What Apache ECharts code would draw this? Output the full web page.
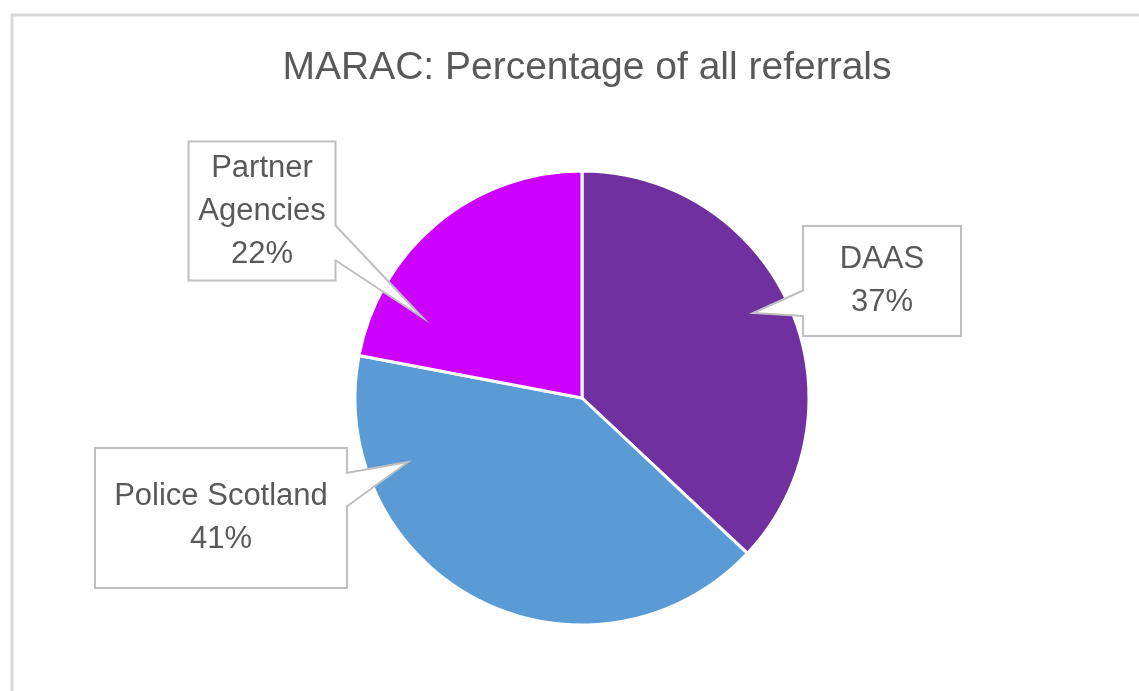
<!DOCTYPE html>
<html>
<head>
<meta charset="utf-8">
<script src="https://cdn.jsdelivr.net/npm/echarts@6/dist/echarts.min.js"></script>
<style>
  html, body { margin: 0; padding: 0; background: #fff; }
  #main { width: 1139px; height: 691px; }
</style>
</head>
<body>
<div id="main"></div>
<script>
// referral sources, clockwise from 12 o'clock
var categories = ['DAAS', 'Police Scotland', 'Partner Agencies'];
var labelNames = ['DAAS', 'Police Scotland', 'Partner\nAgencies'];
var values = [37, 41, 22];
var colors = ['#7030A0', '#5B9BD5', '#CC00FF'];

// callout boxes: centre, inner size, padding, wedge (base a, tip, base b, side into the box)
var callouts = [
    { x: 882, y: 281, w: 136, pad: [11, 10], line: [[804, 290], [753, 313], [804, 316]], inward: 3 },
    { x: 221, y: 518, w: 230, pad: [26, 10], line: [[346, 473], [408, 462], [346, 507]], inward: -3 },
    { x: 262, y: 211, w: 129, pad: [4, 8],  line: [[335, 225], [423, 318], [335, 260]], inward: -3 }
];

var myChart = echarts.init(document.getElementById('main'));

var data = categories.map(function (c, i) {
    return {
        name: c,
        value: values[i],
        itemStyle: { color: colors[i] },
        label: { width: callouts[i].w, padding: callouts[i].pad }
    };
});

// callout pointers drawn over the pie (white fill, grey edge)
var wedges = [];
callouts.forEach(function (c) {
    var a = c.line[0], t = c.line[1], b = c.line[2];
    wedges.push({
        type: 'polygon',
        z: 100,
        silent: true,
        shape: { points: [[a[0] + c.inward, a[1] + 1], a, t, b, [b[0] + c.inward, b[1] - 1]] },
        style: { fill: '#fff', stroke: null }
    });
    wedges.push({
        type: 'polyline',
        z: 101,
        silent: true,
        shape: { points: c.line },
        style: { stroke: '#bfbfbf', lineWidth: 2, fill: null }
    });
});

myChart.setOption({
    backgroundColor: '#fff',
    animation: false,
    graphic: [{
        type: 'rect',
        shape: { x: 12, y: 15, width: 1200, height: 800 },
        style: { fill: 'none', stroke: '#d9d9d9', lineWidth: 3 },
        silent: true
    }].concat(wedges),
    title: {
        text: 'MARAC: Percentage of all referrals',
        left: 582,
        top: 44,
        textAlign: 'center',
        textStyle: {
            color: '#595959',
            fontFamily: 'Liberation Sans',
            fontWeight: 'normal',
            fontSize: 39
        }
    },
    series: [{
        type: 'pie',
        center: [582, 398],
        radius: 227,
        startAngle: 90,
        clockwise: true,
        data: data,
        itemStyle: { borderColor: '#fff', borderWidth: 3 },
        label: {
            show: true,
            position: 'outside',
            formatter: function (p) {
                return labelNames[p.dataIndex] + '\n' + Math.round(p.percent) + '%';
            },
            color: '#595959',
            fontFamily: 'Liberation Sans',
            fontSize: 31,
            lineHeight: 43,
            align: 'center',
            backgroundColor: '#fff',
            borderColor: '#bfbfbf',
            borderWidth: 2
        },
        labelLine: { show: false },
        labelLayout: function (params) {
            var c = callouts[params.dataIndex];
            return {
                x: c.x,
                y: c.y,
                align: 'center',
                verticalAlign: 'middle'
            };
        },
        emphasis: { disabled: true }
    }]
});
</script>
</body>
</html>
